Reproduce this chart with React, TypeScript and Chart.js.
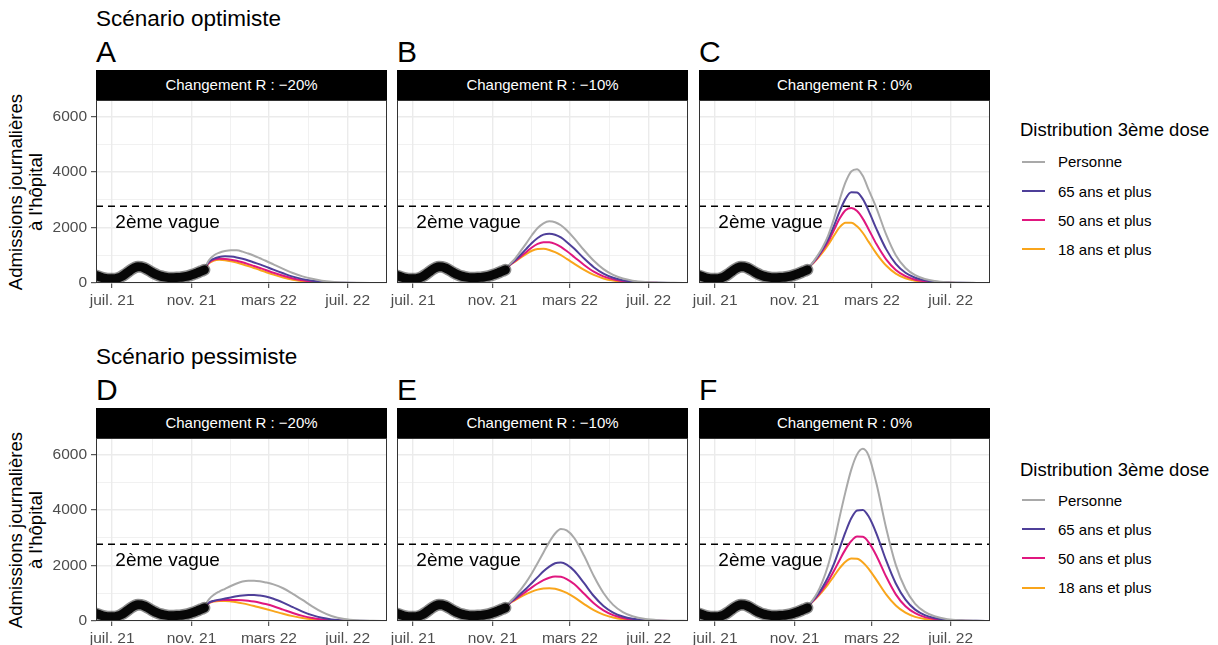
import React, { useEffect, useRef } from "react";
import { Chart, registerables } from "chart.js";

Chart.register(...registerables);

const FONT = '"Liberation Sans", Arial, Helvetica, sans-serif';

// ---------- axes ----------
// x = days since 1 July 2021
const X_MIN = -25;
const X_MAX = 426;
const X_TICK_DAYS = [0, 62, 123, 184, 243, 304, 365];
const X_MAJOR_DAYS = [0, 123, 243, 365];
const X_TICK_LABELS: Record<number, string> = {
  0: "juil. 21",
  123: "nov. 21",
  243: "mars 22",
  365: "juil. 22",
};
const Y_MAX = 6590;
const Y_TICKS = [0, 1000, 2000, 3000, 4000, 5000, 6000];
const Y_MAJOR = [0, 2000, 4000, 6000];

const SECOND_WAVE = 2760;
const SECOND_WAVE_LABEL = "2ème vague";
const LABEL_DAY = 5;
const LABEL_VALUE = 1990;

// ---------- observed admissions ----------
const OBS_DAYS = [-27, -20, -15, -10, -5, 0, 5, 10, 15, 20, 25, 30, 35, 40, 45, 50, 55, 60, 65, 70, 75, 80, 85, 90, 95, 100, 105, 110, 115, 120, 125, 130, 135, 140, 143];
const OBS_VALUES = [285, 230, 190, 165, 152, 150, 158, 185, 240, 315, 400, 485, 550, 585, 580, 540, 480, 410, 345, 290, 250, 222, 203, 193, 190, 194, 202, 217, 238, 268, 305, 350, 395, 445, 475];

// ---------- projections ----------
const PROJ_DAYS = [142, 150, 158, 166, 175, 184, 193, 202, 211, 220, 229, 238, 250, 265, 280, 295, 310, 325, 340, 360, 380, 405, 426];

const SERIES_LABELS = ["Personne", "65 ans et plus", "50 ans et plus", "18 ans et plus"];
const SERIES_COLORS = ["#A9A9A9", "#4E3F99", "#E0177F", "#F9A51B"];

// Scénario optimiste, R -20%
const OPT_M20_PERSONNE = [480, 820, 1000, 1090, 1150, 1180, 1175, 1130, 1060, 980, 890, 800, 670, 510, 360, 240, 150, 85, 45, 18, 6, 2, 1];
const OPT_M20_65 = [480, 760, 880, 940, 960, 950, 920, 870, 810, 740, 670, 590, 480, 350, 230, 140, 80, 42, 20, 7, 2, 1, 0];
const OPT_M20_50 = [480, 730, 840, 870, 865, 840, 800, 745, 680, 610, 540, 470, 370, 260, 165, 95, 50, 24, 10, 3, 1, 0, 0];
const OPT_M20_18 = [480, 710, 810, 835, 820, 785, 735, 675, 610, 540, 470, 395, 300, 200, 120, 65, 32, 14, 6, 2, 0, 0, 0];
// Scénario optimiste, R -10%
const OPT_M10_PERSONNE = [480, 680, 880, 1130, 1420, 1720, 1980, 2150, 2220, 2190, 2080, 1900, 1600, 1180, 800, 500, 290, 160, 85, 35, 14, 5, 2];
const OPT_M10_65 = [480, 660, 820, 1000, 1220, 1440, 1620, 1740, 1775, 1740, 1640, 1480, 1230, 880, 570, 340, 190, 100, 50, 20, 7, 2, 1];
const OPT_M10_50 = [480, 650, 790, 940, 1110, 1280, 1410, 1470, 1465, 1410, 1300, 1150, 930, 650, 410, 240, 130, 65, 30, 11, 4, 1, 0];
const OPT_M10_18 = [480, 640, 770, 900, 1040, 1160, 1225, 1230, 1190, 1110, 1000, 870, 690, 470, 290, 165, 85, 40, 18, 6, 2, 0, 0];
// Scénario optimiste, R 0%
const OPT_0_PERSONNE = [480, 700, 960, 1260, 1700, 2300, 3000, 3620, 4020, 4100, 3850, 3350, 2700, 1750, 1000, 540, 280, 145, 72, 28, 11, 4, 1];
const OPT_0_65 = [480, 690, 920, 1200, 1570, 2050, 2580, 3030, 3270, 3260, 3020, 2600, 1950, 1220, 690, 370, 190, 95, 45, 17, 6, 2, 0];
const OPT_0_50 = [480, 680, 890, 1150, 1480, 1900, 2320, 2620, 2700, 2590, 2310, 1930, 1400, 850, 470, 245, 120, 58, 27, 10, 3, 1, 0];
const OPT_0_18 = [480, 670, 860, 1080, 1370, 1700, 2010, 2170, 2170, 2040, 1800, 1480, 1060, 630, 340, 170, 80, 37, 16, 6, 2, 0, 0];
// Scénario pessimiste, R -20%
const PESS_M20_PERSONNE = [480, 780, 950, 1060, 1160, 1260, 1350, 1420, 1450, 1450, 1430, 1390, 1320, 1180, 980, 760, 530, 330, 180, 70, 25, 8, 3];
const PESS_M20_65 = [480, 660, 730, 770, 810, 850, 890, 920, 935, 935, 915, 880, 800, 660, 500, 340, 210, 115, 58, 20, 7, 2, 1];
const PESS_M20_50 = [480, 650, 720, 745, 755, 760, 760, 750, 730, 700, 660, 610, 530, 410, 290, 185, 105, 55, 26, 9, 3, 1, 0];
const PESS_M20_18 = [480, 645, 705, 722, 722, 705, 675, 635, 590, 540, 485, 430, 355, 260, 175, 108, 60, 30, 13, 4, 1, 0, 0];
// Scénario pessimiste, R -10%
const PESS_M10_PERSONNE = [480, 690, 880, 1110, 1390, 1720, 2090, 2470, 2840, 3150, 3310, 3260, 2980, 2350, 1620, 1010, 580, 320, 170, 70, 28, 10, 4];
const PESS_M10_65 = [480, 660, 810, 970, 1160, 1370, 1580, 1790, 1960, 2080, 2105, 2030, 1800, 1360, 900, 540, 300, 160, 80, 30, 11, 3, 1];
const PESS_M10_50 = [480, 650, 780, 910, 1060, 1210, 1350, 1470, 1560, 1605, 1590, 1510, 1320, 980, 640, 380, 210, 110, 52, 19, 7, 2, 0];
const PESS_M10_18 = [480, 640, 750, 860, 970, 1060, 1130, 1170, 1180, 1160, 1100, 1010, 850, 610, 390, 230, 125, 62, 29, 10, 3, 1, 0];
// Scénario pessimiste, R 0%
const PESS_0_PERSONNE = [480, 720, 1000, 1400, 2000, 2800, 3750, 4650, 5450, 6000, 6200, 5950, 4950, 3350, 2020, 1150, 620, 330, 170, 65, 25, 8, 3];
const PESS_0_65 = [480, 690, 920, 1200, 1580, 2050, 2620, 3200, 3700, 3980, 4000, 3760, 3150, 2180, 1350, 770, 410, 210, 105, 40, 15, 5, 1];
const PESS_0_50 = [480, 680, 880, 1120, 1430, 1800, 2200, 2580, 2880, 3040, 3030, 2830, 2350, 1600, 960, 530, 280, 140, 68, 25, 9, 3, 1];
const PESS_0_18 = [480, 670, 850, 1060, 1320, 1610, 1900, 2130, 2250, 2240, 2110, 1880, 1480, 960, 560, 300, 150, 72, 33, 12, 4, 1, 0];

const STRIP_LABELS = ["Changement R : −20%", "Changement R : −10%", "Changement R : 0%"];
const ROW_TITLES = ["Scénario optimiste", "Scénario pessimiste"];
const PANEL_LETTERS = [["A", "B", "C"], ["D", "E", "F"]];
const PANEL_SERIES = [
  [
    [OPT_M20_PERSONNE, OPT_M20_65, OPT_M20_50, OPT_M20_18],
    [OPT_M10_PERSONNE, OPT_M10_65, OPT_M10_50, OPT_M10_18],
    [OPT_0_PERSONNE, OPT_0_65, OPT_0_50, OPT_0_18],
  ],
  [
    [PESS_M20_PERSONNE, PESS_M20_65, PESS_M20_50, PESS_M20_18],
    [PESS_M10_PERSONNE, PESS_M10_65, PESS_M10_50, PESS_M10_18],
    [PESS_0_PERSONNE, PESS_0_65, PESS_0_50, PESS_0_18],
  ],
];
const LEGEND_TITLE = "Distribution 3ème dose";
const Y_TITLE = ["Admissions journalières", "à l'hôpital"];

// ---------- layout ----------
const COL_LEFT = [96, 397, 699];
const ROW_TOP = [100, 438];
const PLOT_W = 291;
const PLOT_H = 183;
const STRIP_H = 30;
const X_AXIS_H = 30;

const decorPlugin = {
  id: "panelDecor",
  afterDraw(chart: any) {
    const { ctx, chartArea: a, scales } = chart;
    ctx.save();
    ctx.font = `19px ${FONT}`;
    ctx.fillStyle = "#000";
    ctx.textBaseline = "alphabetic";
    ctx.textAlign = "left";
    ctx.fillText(SECOND_WAVE_LABEL, scales.x.getPixelForValue(LABEL_DAY), scales.y.getPixelForValue(LABEL_VALUE));
    ctx.strokeStyle = "#333333";
    ctx.lineWidth = 1;
    ctx.strokeRect(a.left + 0.5, a.top + 0.5, a.right - a.left - 1, a.bottom - a.top - 1);
    ctx.restore();
  },
};

function Panel({ row, col }: { row: number; col: number }) {
  const ref = useRef<HTMLCanvasElement>(null);
  const leftMargin = col === 0 ? 50 : 10;
  const width = leftMargin + PLOT_W + 2;
  const height = PLOT_H + X_AXIS_H;

  useEffect(() => {
    const series = PANEL_SERIES[row][col];
    const obs = OBS_DAYS.map((d, i) => ({ x: d, y: OBS_VALUES[i] }));
    const datasets: any[] = [
      {
        data: obs,
        borderColor: "rgba(0,0,0,0.45)",
        borderWidth: 12,
        borderCapStyle: "round",
        borderJoinStyle: "round",
        clip: 0,
      },
      {
        data: obs,
        borderColor: "rgba(0,0,0,0.95)",
        borderWidth: 9,
        borderCapStyle: "round",
        borderJoinStyle: "round",
        clip: 0,
      },
      ...series.map((vals, k) => ({
        label: SERIES_LABELS[k],
        data: PROJ_DAYS.map((d, i) => ({ x: d, y: vals[i] })),
        borderColor: SERIES_COLORS[k],
        borderWidth: 2,
        clip: 0,
      })),
      {
        data: [
          { x: X_MIN, y: SECOND_WAVE },
          { x: X_MAX, y: SECOND_WAVE },
        ],
        borderColor: "#000",
        borderWidth: 1.5,
        borderDash: [7, 5],
        cubicInterpolationMode: "default",
        tension: 0,
        clip: 0,
      },
    ];

    const chart = new Chart(ref.current as HTMLCanvasElement, {
      type: "line",
      data: { datasets },
      plugins: [decorPlugin],
      options: {
        animation: false,
        responsive: false,
        maintainAspectRatio: false,
        events: [],
        layout: { padding: { left: 0, right: 2, top: 0, bottom: 0 } },
        plugins: { legend: { display: false }, tooltip: { enabled: false }, title: { display: false } },
        elements: { point: { radius: 0 }, line: { cubicInterpolationMode: "monotone" } },
        scales: {
          x: {
            type: "linear",
            min: X_MIN,
            max: X_MAX,
            border: { display: false },
            grid: {
              color: "#EBEBEB",
              lineWidth: (c: any) => (X_MAJOR_DAYS.includes(c.tick?.value) ? 1.4 : 0.7),
              drawTicks: true,
              tickLength: 5,
              tickWidth: 1,
              tickColor: (c: any) => (X_MAJOR_DAYS.includes(c.tick?.value) ? "#333333" : "rgba(0,0,0,0)"),
            },
            ticks: {
              autoSkip: false,
              maxRotation: 0,
              minRotation: 0,
              padding: 3,
              color: "#4D4D4D",
              font: { family: FONT, size: 15.5 },
              callback: (v: any) => X_TICK_LABELS[v as number] ?? "",
            },
            afterBuildTicks: (s: any) => {
              s.ticks = X_TICK_DAYS.map((v) => ({ value: v }));
            },
            afterFit: (s: any) => {
              s.height = X_AXIS_H;
              s.paddingLeft = 0;
              s.paddingRight = 0;
            },
          },
          y: {
            type: "linear",
            min: 0,
            max: Y_MAX,
            border: { display: false },
            grid: {
              color: "#EBEBEB",
              lineWidth: (c: any) => (Y_MAJOR.includes(c.tick?.value) ? 1.4 : 0.7),
              drawTicks: true,
              tickLength: 5,
              tickWidth: 1,
              tickColor: (c: any) =>
                col === 0 && Y_MAJOR.includes(c.tick?.value) ? "#333333" : "rgba(0,0,0,0)",
            },
            ticks: {
              display: col === 0,
              autoSkip: false,
              padding: 4,
              color: "#4D4D4D",
              font: { family: FONT, size: 15.5 },
              callback: (v: any) => (Y_MAJOR.includes(v as number) ? String(v) : ""),
            },
            afterBuildTicks: (s: any) => {
              s.ticks = Y_TICKS.map((v) => ({ value: v }));
            },
            afterFit: (s: any) => {
              s.width = leftMargin;
              s.paddingTop = 0;
              s.paddingBottom = 0;
            },
          },
        },
      } as any,
    });
    return () => chart.destroy();
  }, [row, col]);

  const plotLeft = COL_LEFT[col];
  const plotTop = ROW_TOP[row];
  return (
    <>
      <div
        style={{
          position: "absolute",
          left: plotLeft,
          top: plotTop - STRIP_H,
          width: PLOT_W,
          height: STRIP_H,
          background: "#000",
          color: "#fff",
          fontSize: 15,
          lineHeight: `${STRIP_H}px`,
          textAlign: "center",
          fontFamily: FONT,
        }}
      >
        {STRIP_LABELS[col]}
      </div>
      <canvas
        ref={ref}
        width={width}
        height={height}
        style={{ position: "absolute", left: plotLeft - leftMargin, top: plotTop, width, height }}
      />
      <Text x={plotLeft} baseline={plotTop - 37.4} size={30}>
        {PANEL_LETTERS[row][col]}
      </Text>
    </>
  );
}

function Text({ x, baseline, size, children, color = "#000" }: any) {
  return (
    <div
      style={{
        position: "absolute",
        left: x,
        top: baseline - 0.8465 * size,
        fontSize: size,
        lineHeight: 1,
        whiteSpace: "nowrap",
        color,
        fontFamily: FONT,
      }}
    >
      {children}
    </div>
  );
}

function Legend({ row }: { row: number }) {
  const titleBaseline = [136.7, 476.7][row];
  const y0 = [161.7, 500][row];
  return (
    <>
      <Text x={1020} baseline={titleBaseline} size={18.5}>
        {LEGEND_TITLE}
      </Text>
      {SERIES_LABELS.map((lab, k) => {
        const cy = y0 + k * 29.2;
        return (
          <React.Fragment key={lab}>
            <div
              style={{
                position: "absolute",
                left: 1022,
                top: cy - 1,
                width: 23,
                height: 2,
                background: SERIES_COLORS[k],
              }}
            />
            <Text x={1058} baseline={cy + 5.3} size={15}>
              {lab}
            </Text>
          </React.Fragment>
        );
      })}
    </>
  );
}

function YTitle({ row }: { row: number }) {
  const cx = 25.6;
  const cy = ROW_TOP[row] + PLOT_H / 2;
  return (
    <div
      style={{
        position: "absolute",
        left: cx - 150,
        top: cy - 20,
        width: 300,
        height: 40,
        lineHeight: "20px",
        fontSize: 18.6,
        textAlign: "center",
        transform: "rotate(-90deg)",
        fontFamily: FONT,
        color: "#000",
        whiteSpace: "nowrap",
      }}
    >
      {Y_TITLE[0]}
      <br />
      {Y_TITLE[1]}
    </div>
  );
}

export default function App() {
  return (
    <div
      style={{
        position: "absolute",
        left: 0,
        top: 0,
        width: 1218,
        height: 645,
        background: "#fff",
        overflow: "hidden",
        fontFamily: FONT,
      }}
    >
      <Text x={96} baseline={26.7} size={22.5}>
        {ROW_TITLES[0]}
      </Text>
      <Text x={96} baseline={365} size={22.5}>
        {ROW_TITLES[1]}
      </Text>
      {[0, 1].map((r) => (
        <React.Fragment key={r}>
          <YTitle row={r} />
          <Legend row={r} />
          {[0, 1, 2].map((c) => (
            <Panel key={`${r}-${c}`} row={r} col={c} />
          ))}
        </React.Fragment>
      ))}
    </div>
  );
}
